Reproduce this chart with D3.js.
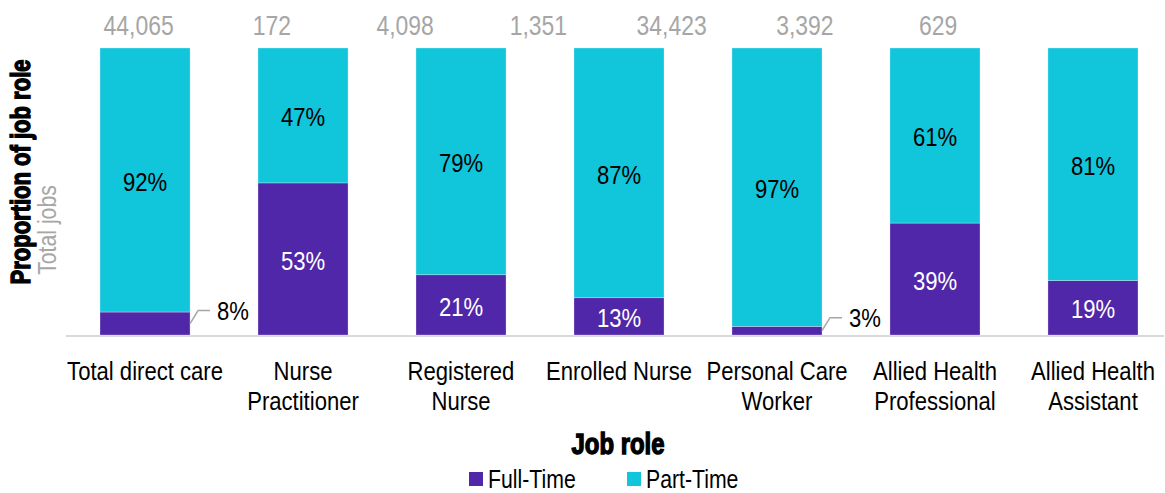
<!DOCTYPE html>
<html>
<head>
<meta charset="utf-8">
<script src="https://cdn.jsdelivr.net/npm/d3@7"></script>
<style>
  html, body { margin: 0; padding: 0; background: #fff; }
  svg { display: block; }
  text { font-family: "Liberation Sans Narrow", "Arial Narrow", "Liberation Sans", sans-serif; }
  .heavy { font-weight: 700; }
</style>
</head>
<body>
<svg id="chart"></svg>
<script>
// Data
const categories = [
  "Total direct care",
  "Nurse\nPractitioner",
  "Registered\nNurse",
  "Enrolled Nurse",
  "Personal Care\nWorker",
  "Allied Health\nProfessional",
  "Allied Health\nAssistant"
];
const fullTime = [8, 53, 21, 13, 3, 39, 19];
const partTime = [92, 47, 79, 87, 97, 61, 81];
// total job counts (the source chart prints them on their own, shifted row)
const totals = ["44,065", "172", "4,098", "1,351", "34,423", "3,392", "629"];
const seriesNames = ["Full-Time", "Part-Time"];
const colors = ["#5027a8", "#11c5db"];

const W = 1165, H = 493;
const NARROW = 0.85;   // no narrow face installed -> squeeze the regular one
const svg = d3.select("#chart").attr("width", W).attr("height", H);

// text helper: a group at (px,py), optionally rotated, glyphs squeezed
function label(parent, px, py, txt, opts = {}) {
  const g = parent.append("g")
    .attr("transform", `translate(${px},${py})${opts.rotate ? ` rotate(${opts.rotate})` : ""} scale(${NARROW},1)`);
  const t = g.append("text")
    .attr("text-anchor", opts.anchor || "middle")
    .attr("dominant-baseline", "central")
    .attr("font-size", opts.size || 26)
    .attr("fill", opts.fill || "#000");
  const lines = String(txt).split("\n");
  lines.forEach((line, j) => {
    t.append("tspan").attr("x", 0).attr("y", j * (opts.lh || 30)).text(line);
  });
  return t;
}

const x = d3.scaleBand()
  .domain(d3.range(categories.length))
  .range([100, 1138])
  .paddingInner(0.43)
  .paddingOuter(0);

const y = d3.scaleLinear().domain([0, 100]).range([335, 48]);

// stacked rows
const rows = categories.map((c, i) => ({ i, "Full-Time": fullTime[i], "Part-Time": partTime[i] }));
const stack = d3.stack().keys(seriesNames)(rows);

// baseline
svg.append("line")
  .attr("x1", 66).attr("x2", 1164)
  .attr("y1", y(0) + 1).attr("y2", y(0) + 1)
  .attr("stroke", "#d9d9d9").attr("stroke-width", 2);

const layers = svg.selectAll(".layer")
  .data(stack)
  .join("g")
  .attr("class", "layer")
  .attr("fill", (d, k) => colors[k]);

layers.selectAll("rect")
  .data(d => d)
  .join("rect")
  .attr("x", d => x(d.data.i))
  .attr("width", x.bandwidth())
  .attr("y", d => y(d[1]))
  .attr("height", d => y(d[0]) - y(d[1]))
  .attr("stroke", "rgba(255,255,255,0.35)")
  .attr("stroke-width", 0.8);

// value labels
stack.forEach((layer, k) => {
  layer.forEach(d => {
    const v = d[1] - d[0];
    const mid = (y(d[0]) + y(d[1])) / 2;
    if (v < 10) {
      const xr = x(d.data.i) + x.bandwidth();
      const ly = mid - 13;
      svg.append("polyline")
        .attr("points", `${xr},${mid} ${xr + 8},${ly} ${xr + 20},${ly}`)
        .attr("fill", "none")
        .attr("stroke", "#a6a6a6")
        .attr("stroke-width", 1.5);
      label(svg, xr + 27, ly, v + "%", { anchor: "start" });
    } else {
      label(svg, x(d.data.i) + x.bandwidth() / 2, mid + 1, v + "%",
        { fill: k === 0 ? "#fff" : "#000" });
    }
  });
});

// total jobs row (8 slots, only 7 filled)
const xt = d3.scaleBand().domain(d3.range(8)).range([72, 1138]);
totals.forEach((d, i) => {
  label(svg, xt(i) + xt.bandwidth() / 2, 25, d, { fill: "#a6a6a6", size: 27 });
});

// category labels
categories.forEach((d, i) => {
  label(svg, x(i) + x.bandwidth() / 2, 370, d, { size: 26, lh: 30 });
});

// axis titles
svg.append("text")
  .attr("class", "heavy")
  .attr("x", 618).attr("y", 443)
  .attr("text-anchor", "middle")
  .attr("dominant-baseline", "central")
  .attr("font-size", 30)
  .attr("stroke", "#000").attr("stroke-width", 1.4)
  .attr("textLength", 93).attr("lengthAdjust", "spacingAndGlyphs")
  .text("Job role");

svg.append("text")
  .attr("class", "heavy")
  .attr("transform", "translate(21,172) rotate(-90)")
  .attr("text-anchor", "middle")
  .attr("dominant-baseline", "central")
  .attr("font-size", 27)
  .attr("stroke", "#000").attr("stroke-width", 1.4)
  .attr("textLength", 225).attr("lengthAdjust", "spacingAndGlyphs")
  .text("Proportion of job role");

label(svg, 47, 230, "Total jobs", { rotate: -90, size: 25, fill: "#a6a6a6" });

// legend
const legend = svg.selectAll(".legend")
  .data(seriesNames)
  .join("g")
  .attr("class", "legend")
  .attr("transform", (d, i) => `translate(${469 + i * 158},472)`);
legend.append("rect")
  .attr("width", 14).attr("height", 14)
  .attr("fill", (d, i) => colors[i]);
legend.each(function (d) {
  label(d3.select(this), 19, 7, d, { anchor: "start", size: 25 });
});
</script>
</body>
</html>
